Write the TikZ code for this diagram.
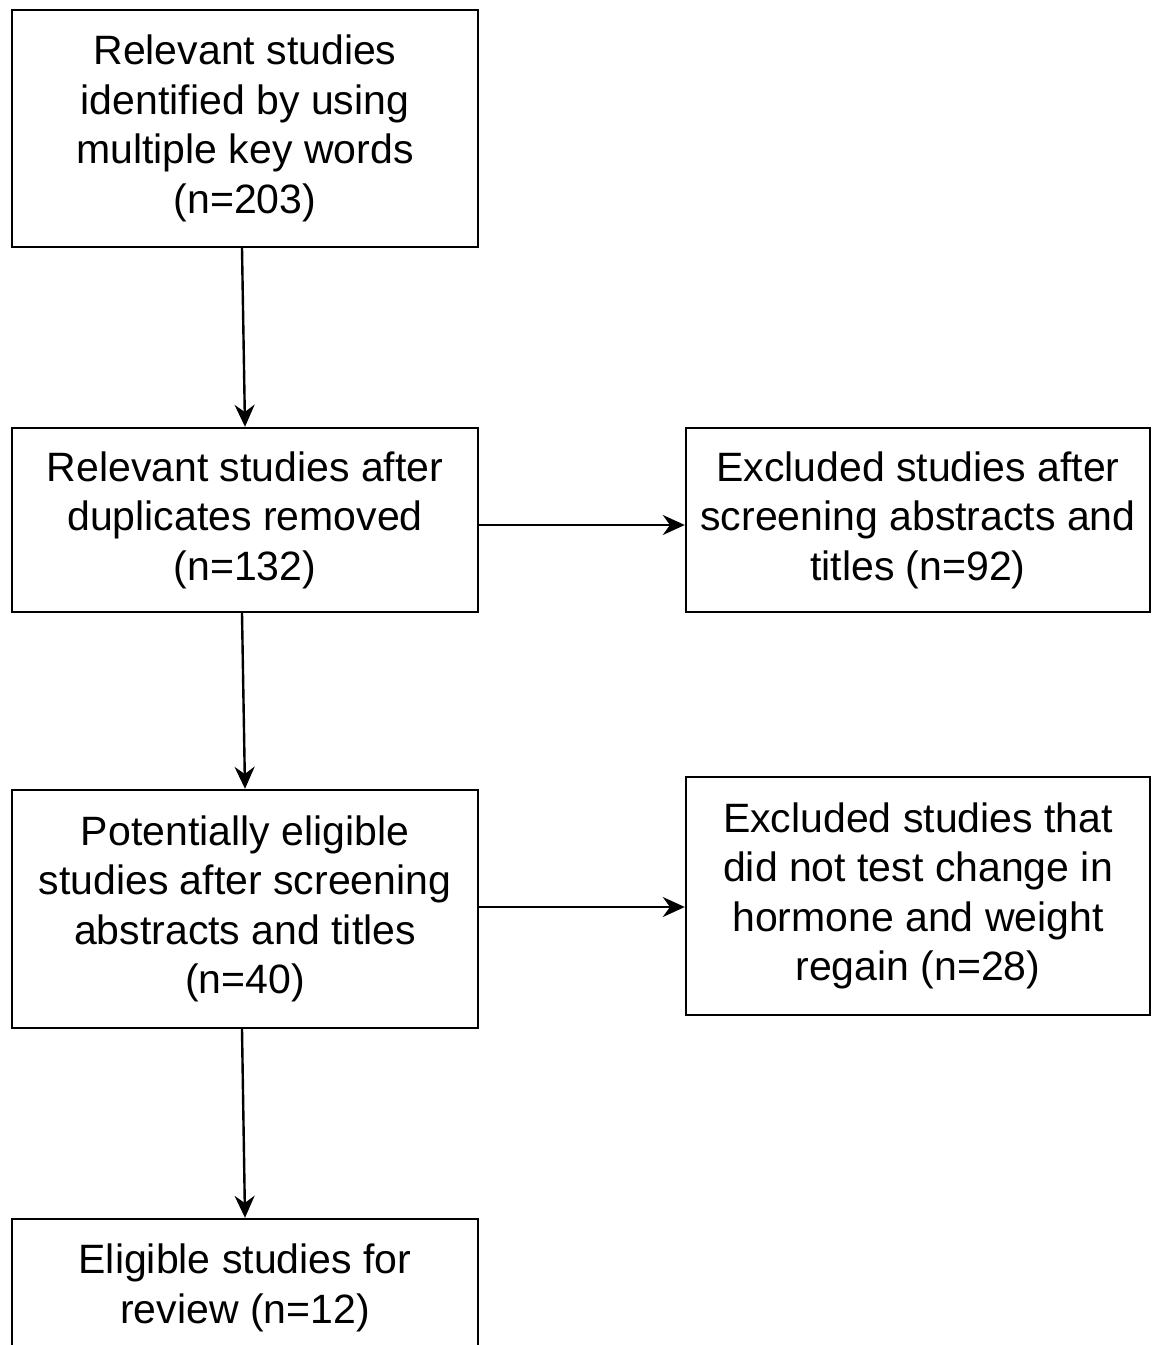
\documentclass[tikz,border=0pt]{standalone}
\usepackage{fontspec}
\setmainfont{Liberation Sans}
\usetikzlibrary{arrows.meta, positioning}

\begin{document}
\begin{tikzpicture}[
  x=1pt, y=1pt,
  box/.style={draw, line width=2.4pt, minimum width=466pt, align=center,
    inner sep=0pt, font=\fontsize{41}{49.5}\selectfont},
  arr/.style={-{Stealth[length=22pt, width=20pt]}, line width=2.4pt}
]
\useasboundingbox (0,0) rectangle (1152,-1345);
\node[box, minimum height=237pt] (ident)  at (245,-128.5) {Relevant studies\\identified by using\\multiple key words\\(n=203)};
\node[box, minimum height=184pt] (dupl)   at (245,-520)   {Relevant studies after\\duplicates removed\\(n=132)};
\node[box, minimum height=184pt, minimum width=464pt] (excla) at (918,-520) {Excluded studies after\\screening abstracts and\\titles (n=92)};
\node[box, minimum height=238pt] (potent) at (245,-909)   {Potentially eligible\\studies after screening\\abstracts and titles\\(n=40)};
\node[box, minimum height=238pt, minimum width=464pt] (exclb) at (918,-896) {Excluded studies that\\did not test change in\\hormone and weight\\regain (n=28)};
\node[box, minimum height=150pt] (elig) at (245,-1294) {};
\node[font=\fontsize{41}{49.5}\selectfont, align=center] (eligtxt) at (245,-1288) {Eligible studies for\\review (n=12)};
\coordinate (duplr) at ([yshift=-5pt]dupl.east);
\coordinate (potentr) at ([yshift=2pt]potent.east);

\draw[arr] ([xshift=-3pt]ident.south)  -- (dupl.north);
\draw[arr] ([xshift=-3pt]dupl.south)   -- (potent.north);
\draw[arr] ([xshift=-3pt]potent.south) -- (elig.north);
\draw[arr] (duplr)   -- (excla.west |- duplr);
\draw[arr] (potentr) -- (exclb.west |- potentr);
\end{tikzpicture}
\end{document}
